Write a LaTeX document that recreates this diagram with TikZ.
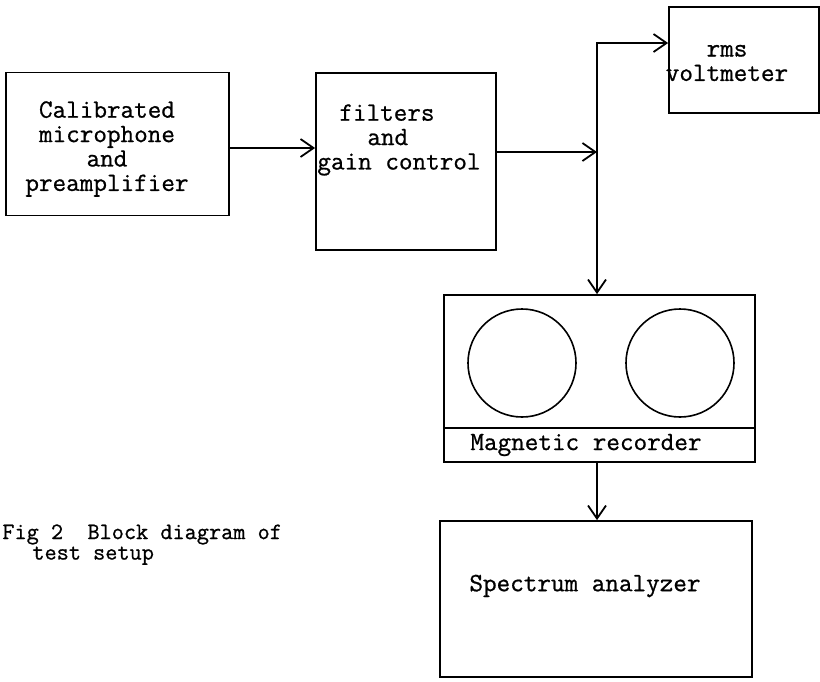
\documentclass[tikz,border=0pt]{standalone}
\usepackage{fontspec}
\setmonofont[FakeBold=0.8]{Latin Modern Mono}
\usetikzlibrary{arrows.meta}
\begin{document}
\begin{tikzpicture}[x=0.5pt,y=-0.5pt,
  box/.style={draw,line width=0.9pt,rectangle,inner sep=0pt},
  lbl/.style={font=\ttfamily\fontsize{13.2}{12.2}\selectfont,inner sep=0pt,align=center},
  captext/.style={font=\ttfamily\fontsize{11.8}{9}\selectfont,inner sep=0pt,align=left},
  arr/.style={line width=0.9pt,-{Straight Barb[length=6.5pt,width=9pt,line width=0.9pt]}},
  reel/.style={draw,circle,line width=0.8pt,minimum size=54pt,inner sep=0pt}]
\useasboundingbox (0,0) rectangle (820,681);
% boxes
\node[box,minimum width=111.5pt,minimum height=71.5pt] (mic) at (117.5,144) {};
\node[box,minimum width=90pt,minimum height=88.5pt] (filt) at (406,161.5) {};
\node[box,minimum width=75pt,minimum height=53pt] (volt) at (744,60) {};
\node[box,minimum width=155.5pt,minimum height=83.5pt] (rec) at (599.5,378.5) {};
\node[box,minimum width=156pt,minimum height=78pt] (spec) at (596,599) {};
% texts
\node[lbl] (micT) at (107,149) {Calibrated\\microphone\\and\\preamplifier};
\node[lbl,align=left,anchor=north west] (filtT) at (317,104) {\hspace{11pt}filters\\\hspace{25pt}and\\gain control};
\node[lbl] (voltT) at (727,63) {rms\\voltmeter};
\node[lbl] (recT) at (586,445) {Magnetic recorder};
\node[lbl] (specT) at (585,586) {Spectrum analyzer};
\node[captext,anchor=north west] (capT) at (2,524) {Fig 2\ \ Block diagram of\\\hspace{15pt}test setup};
% recorder details
\draw[line width=0.9pt] (rec.west |- 0,428) -- (rec.east |- 0,428);
\node[reel] (reelL) at (522,363) {};
\node[reel] (reelR) at (680,363) {};
% connectors
\coordinate (jn) at (597,152);
\coordinate (tp) at (597,43);
\draw[arr] (mic.east |- 0,148) -- (filt.west |- 0,148);
\draw[arr] (filt.east |- jn) -- (jn);
\draw[arr] (jn) -- (tp) -- (volt.west |- tp);
\draw[arr] (jn) -- (rec.north -| jn);
\draw[arr] (rec.south -| jn) -- (spec.north -| jn);
\end{tikzpicture}
\end{document}
